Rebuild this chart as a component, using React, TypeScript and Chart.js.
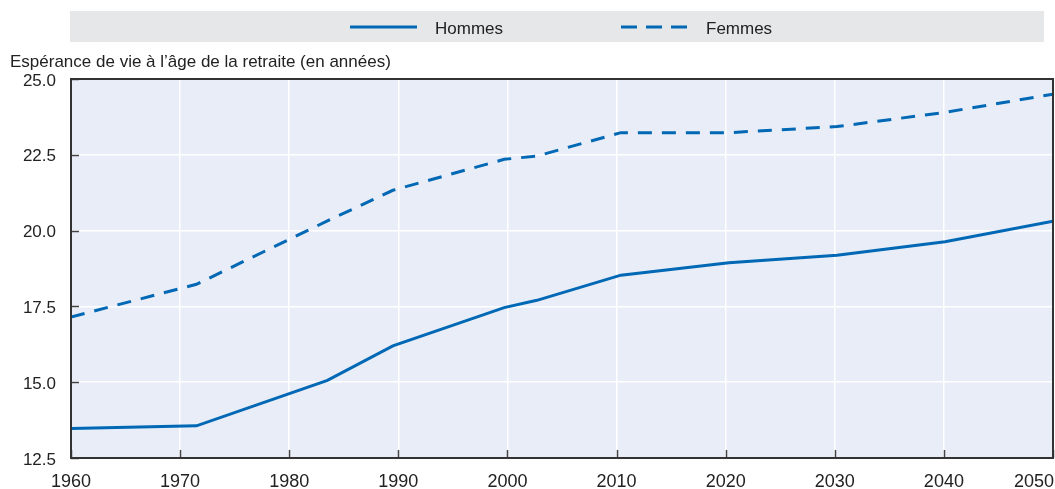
import React, { useEffect, useRef } from "react";
import { Chart, registerables } from "chart.js";

Chart.register(...registerables);

const years = [1960, 1971.5, 1983.5, 1989.5, 1999.7, 2002.7, 2010.4, 2020.3, 2030.2, 2040.1, 2050];
const hommes = [13.47, 13.56, 15.06, 16.2, 17.46, 17.7, 18.53, 18.94, 19.19, 19.63, 20.31];
const femmes = [17.15, 18.23, 20.32, 21.33, 22.35, 22.46, 23.23, 23.23, 23.43, 23.9, 24.5];
const seriesLabels = ["Hommes", "Femmes"];
const xTicks = [1960, 1970, 1980, 1990, 2000, 2010, 2020, 2030, 2040, 2050];
const yTitle = "Espérance de vie à l’âge de la retraite (en années)";

const FONT = '"Liberation Sans", Arial, sans-serif';
const SQUEEZE = 1;
const BLUE = "#0068b4";
const TEXT = "#222222";

function drawText(ctx: any, text: string, x: number, y: number, align: string, size: number, maxRight?: number) {
  ctx.save();
  ctx.font = `${size}px ${FONT}`;
  ctx.textBaseline = "alphabetic";
  ctx.textAlign = "left";
  const w = ctx.measureText(text).width * SQUEEZE;
  let left = align === "center" ? x - w / 2 : align === "right" ? x - w : x;
  if (maxRight !== undefined && left + w > maxRight) left = maxRight - w;
  ctx.translate(left, y);
  ctx.scale(SQUEEZE, 1);
  ctx.fillText(text, 0, 0);
  ctx.restore();
}

const decorPlugin = {
  id: "decor",
  beforeDraw(chart: any) {
    const { ctx, chartArea: a } = chart;
    ctx.save();
    ctx.fillStyle = "#e9edf7";
    ctx.fillRect(a.left, a.top, a.right - a.left, a.bottom - a.top);
    ctx.restore();
  },
  afterDraw(chart: any) {
    const { ctx, chartArea: a, scales } = chart;
    const xs = scales.x;
    const ys = scales.y;
    ctx.save();
    // inward ticks
    ctx.strokeStyle = "#444";
    ctx.lineWidth = 1.5;
    ys.ticks.forEach((t: any) => {
      const y = Math.round(ys.getPixelForValue(t.value)) + 0.5;
      ctx.beginPath();
      ctx.moveTo(a.left, y);
      ctx.lineTo(a.left + 8, y);
      ctx.stroke();
    });
    xTicks.forEach((v) => {
      const x = Math.round(xs.getPixelForValue(v)) + 0.5;
      ctx.beginPath();
      ctx.moveTo(x, a.bottom);
      ctx.lineTo(x, a.bottom - 8);
      ctx.stroke();
    });
    // frame
    ctx.strokeStyle = "#333";
    ctx.lineWidth = 2;
    ctx.strokeRect(a.left, a.top, a.right - a.left, a.bottom - a.top);
    ctx.fillStyle = TEXT;
    // x labels
    xTicks.forEach((v) => {
      drawText(ctx, String(v), xs.getPixelForValue(v), 487, "center", 18, chart.width - 1);
    });
    // y labels
    ys.ticks.forEach((t: any) => {
      drawText(ctx, Number(t.value).toFixed(1), 56, ys.getPixelForValue(t.value) + 6.5, "right", 17);
    });
    // y title
    drawText(ctx, yTitle, 10, 67, "left", 17);
    // legend
    ctx.fillStyle = "#e6e7e8";
    ctx.fillRect(70, 11, 974, 31);
    const ly = 27;
    ctx.strokeStyle = BLUE;
    ctx.lineWidth = 3;
    ctx.beginPath();
    ctx.moveTo(350, ly);
    ctx.lineTo(417, ly);
    ctx.stroke();
    ctx.setLineDash([16, 9]);
    ctx.beginPath();
    ctx.moveTo(621, ly);
    ctx.lineTo(688, ly);
    ctx.stroke();
    ctx.setLineDash([]);
    ctx.fillStyle = TEXT;
    drawText(ctx, seriesLabels[0], 435, ly + 7, "left", 17);
    drawText(ctx, seriesLabels[1], 706, ly + 7, "left", 17);
    ctx.restore();
  },
};

export default function App() {
  const ref = useRef<HTMLCanvasElement | null>(null);
  useEffect(() => {
    if (!ref.current) return;
    const chart = new Chart(ref.current, {
      type: "line",
      data: {
        datasets: [
          {
            label: seriesLabels[0],
            data: years.map((x, i) => ({ x, y: hommes[i] })),
            borderColor: BLUE,
            borderWidth: 3,
            pointRadius: 0,
            tension: 0,
            fill: false,
          },
          {
            label: seriesLabels[1],
            data: years.map((x, i) => ({ x, y: femmes[i] })),
            borderColor: BLUE,
            borderWidth: 3,
            borderDash: [14, 10],
            pointRadius: 0,
            tension: 0,
            fill: false,
          },
        ],
      },
      plugins: [decorPlugin],
      options: {
        animation: false,
        responsive: false,
        devicePixelRatio: 1,
        layout: { padding: { top: 79, right: 2, left: 71, bottom: 0 } },
        plugins: {
          legend: { display: false },
          tooltip: { enabled: false },
          title: { display: false },
        },
        scales: {
          x: {
            type: "linear",
            min: 1960,
            max: 2050,
            ticks: { display: false, stepSize: 10 },
            grid: { color: "#ffffff", lineWidth: 1.5, drawTicks: false },
            border: { display: false },
            afterFit: (s: any) => {
              s.height = 31;
            },
          },
          y: {
            min: 12.5,
            max: 25,
            ticks: { display: false, stepSize: 2.5 },
            grid: { color: "#ffffff", lineWidth: 1.5, drawTicks: false },
            border: { display: false },
            afterFit: (s: any) => {
              s.width = 0;
            },
          },
        },
      },
    });
    return () => chart.destroy();
  }, []);
  return (
    <div style={{ position: "absolute", left: 0, top: 0, width: 1055, height: 489 }}>
      <canvas ref={ref} width={1055} height={489} style={{ display: "block" }} />
    </div>
  );
}
